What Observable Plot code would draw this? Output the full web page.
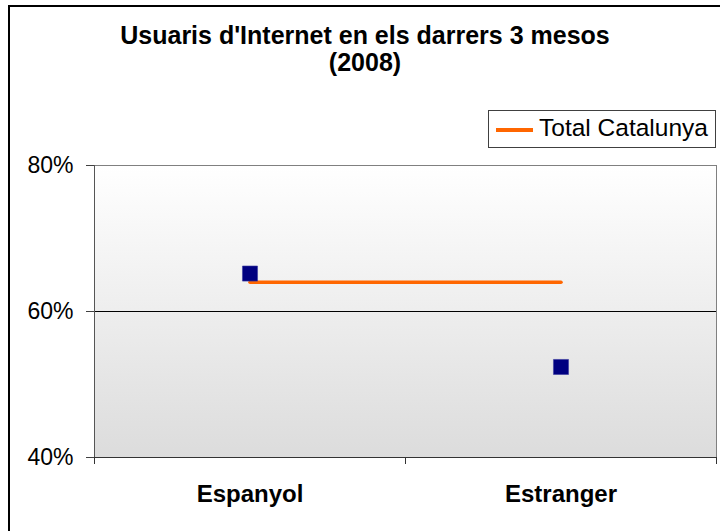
<!DOCTYPE html>
<html><head><meta charset="utf-8">
<script src="https://cdn.jsdelivr.net/npm/d3@7"></script>
<script src="https://cdn.jsdelivr.net/npm/@observablehq/plot@0.6"></script>
<style>
body{margin:0;background:#fff;font-family:"Liberation Sans",Arial,sans-serif;}
#wrap{position:relative;width:720px;height:531px;overflow:hidden;background:#fff}
#frame{position:absolute;left:8px;top:5px;width:800px;height:600px;border:2px solid #000;box-sizing:border-box}
#title{position:absolute;left:0;width:730px;top:22px;text-align:center;font-weight:bold;font-size:25px;line-height:27px;color:#000}
#legend{position:absolute;left:488px;top:110px;width:228px;height:38px;border:1px solid #404040;box-sizing:border-box;background:#fff}
#legend .sw{position:absolute;left:7px;top:17px;width:37px;height:3.5px;background:#FF6600}
#legend .tx{position:absolute;left:50px;top:3px;font-size:24.5px;line-height:28px;color:#000;white-space:nowrap}
#chart{position:absolute;left:0;top:0}
</style></head>
<body>
<div id="wrap">
  <div id="chart"></div>
  <div id="frame"></div>
  <div id="title"></div>
  <div id="legend"><div class="sw"></div><div class="tx"></div></div>
</div>
<script>
const titleLines = ["Usuaris d'Internet en els darrers 3 mesos", "(2008)"];
const categories = ["Espanyol", "Estranger"];
const values = [65.2, 52.4];
const totalCatalunya = 64.0;
const totalLabel = "Total Catalunya";
const yTicks = [40, 60, 80];

document.getElementById("title").innerHTML = titleLines.join("<br>");
document.querySelector("#legend .tx").textContent = totalLabel;

const data = categories.map((c, i) => ({cat: c, idx: i + 0.5, v: values[i]}));
const total = categories.map((c, i) => ({idx: i + 0.5, v: totalCatalunya}));

const plot = Plot.plot({
  width: 720, height: 531,
  marginLeft: 94, marginRight: 4, marginTop: 165, marginBottom: 74,
  style: {fontFamily: "Liberation Sans, Arial, sans-serif", fontSize: "23px", color: "#000", background: "transparent", overflow: "visible"},
  x: {type: "linear", domain: [0, categories.length], axis: null},
  y: {domain: [40, 80], axis: null},
  marks: [
    Plot.frame({fill: "url(#bg)", stroke: null}),
    Plot.ruleY([60], {stroke: "#000", strokeWidth: 1.2}),
    Plot.ruleY([80], {stroke: "#808080"}),
    Plot.ruleX([categories.length], {stroke: "#808080"}),
    Plot.axisY({ticks: yTicks, tickFormat: d => d + "%", tickSize: 8, tickPadding: 13, fontSize: 23, stroke: "#404040", label: null}),
    Plot.ruleX([0], {stroke: "#555"}),
    Plot.ruleY([40], {stroke: "#333"}),
    Plot.axisX({ticks: d3.range(categories.length + 1), tickSize: 7, tickFormat: () => "", stroke: "#333", label: null}),
    Plot.axisX({ticks: data.map(d => d.idx), tickSize: 0, tickPadding: 27, tickFormat: d => categories[Math.floor(d)], fontWeight: "bold", fontSize: 24, label: null}),
    Plot.line(total, {x: "idx", y: "v", stroke: "#FF6600", strokeWidth: 3.5}),
    Plot.dot(data, {x: "idx", y: "v", symbol: "square", r: 8.5, fill: "#000080", stroke: "#3a3aa0", strokeWidth: 0.6})
  ]
});

const defs = d3.select(plot).insert("defs", ":first-child");
const grad = defs.append("linearGradient").attr("id", "bg").attr("x1", 0).attr("y1", 0).attr("x2", 0).attr("y2", 1);
grad.append("stop").attr("offset", "0%").attr("stop-color", "#ffffff");
grad.append("stop").attr("offset", "100%").attr("stop-color", "#dcdcdc");

document.getElementById("chart").appendChild(plot);
</script>
</body></html>
